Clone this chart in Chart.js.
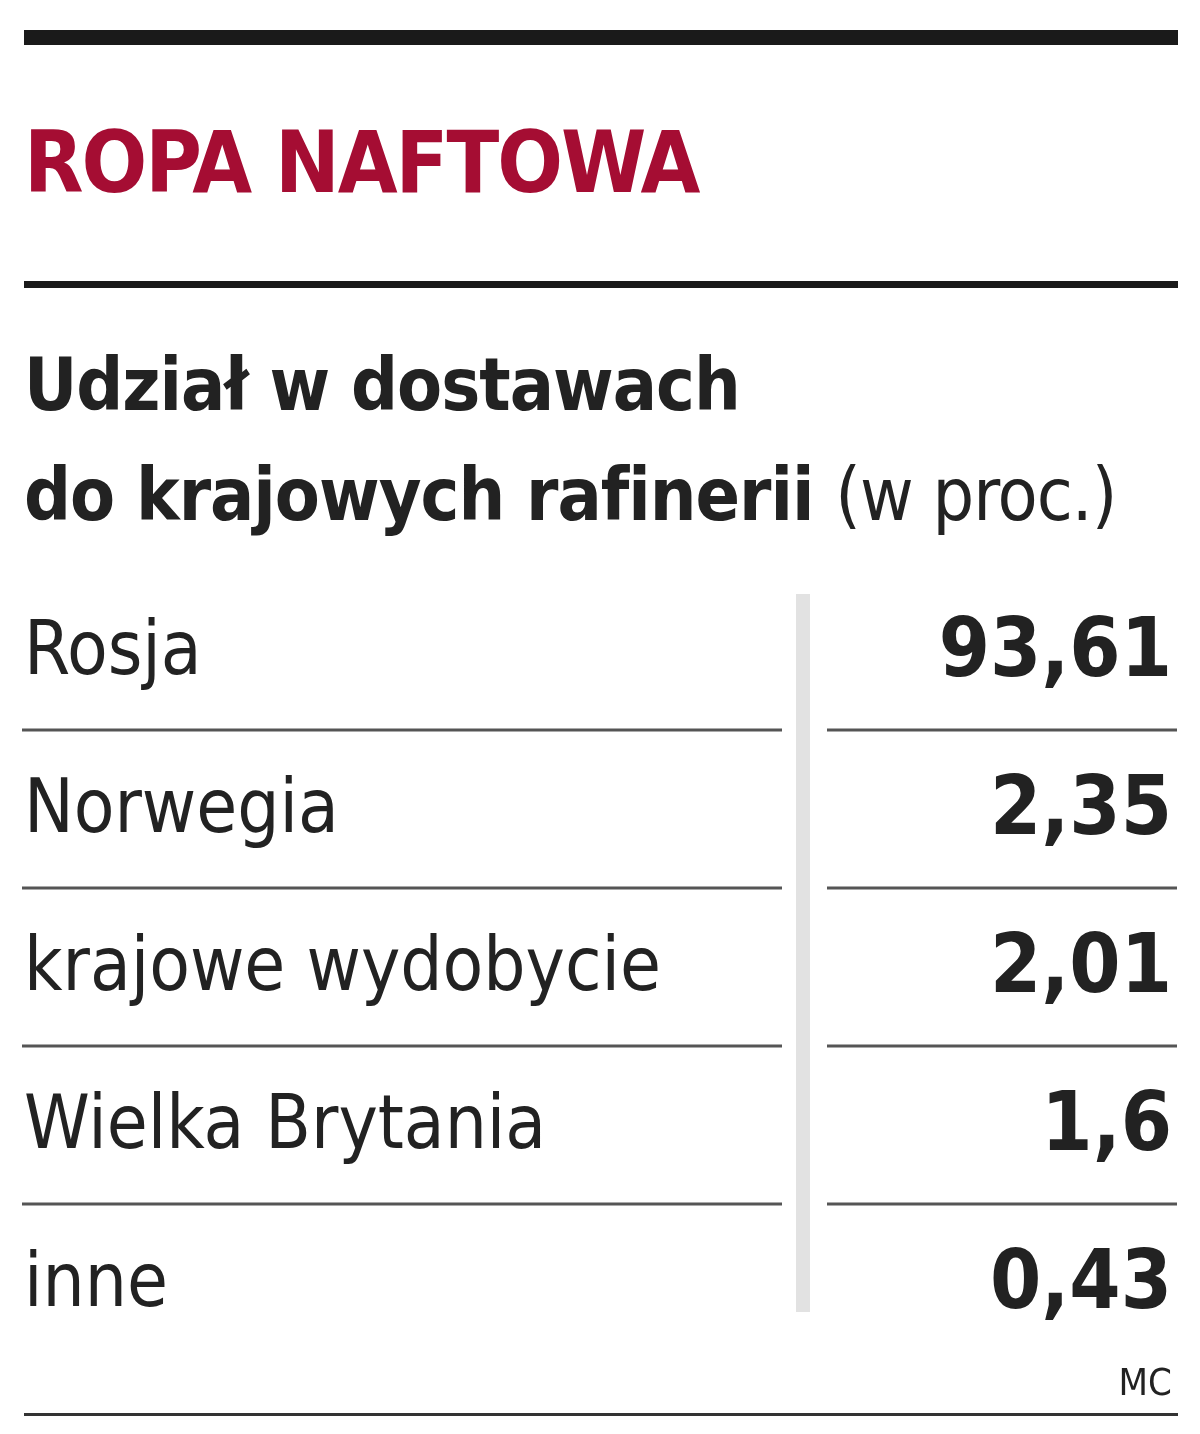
<!DOCTYPE html>
<html><head><meta charset="utf-8">
<script src="https://cdn.jsdelivr.net/npm/chart.js@4"></script>
<style>
body{margin:0;width:1200px;height:1434px;background:#fff;position:relative;overflow:hidden;font-family:'Liberation Sans Narrow','DejaVu Sans Condensed',sans-serif;color:#222}
.bar1{position:absolute;left:24px;top:30px;width:1154px;height:15px;background:#1a1a1a}
.bar2{position:absolute;left:24px;top:281px;width:1154px;height:7px;background:#1a1a1a}
.bar3{position:absolute;left:24px;top:1413px;width:1154px;height:3px;background:#333}
h1{position:absolute;left:24px;top:112px;margin:0;font-size:86px;font-weight:bold;color:#a50d33;letter-spacing:-2px}
.sub{position:absolute;left:24px;top:330px;margin:0;font-size:73px;font-weight:bold;line-height:110px;letter-spacing:-1px}
.sub span{font-weight:normal}
.mc{position:absolute;right:28px;top:1360px;font-size:38px}
#wrap{position:absolute;left:0;top:572px;width:1200px;height:790px}
</style></head><body>
<div class="bar1"></div>
<h1>ROPA NAFTOWA</h1>
<div class="bar2"></div>
<div class="sub">Udział w dostawach<br>do krajowych rafinerii <span>(w proc.)</span></div>
<div id="wrap"><canvas id="c"></canvas></div>
<div class="mc">MC</div>
<div class="bar3"></div>
<script>
const categories = ['Rosja', 'Norwegia', 'krajowe wydobycie', 'Wielka Brytania', 'inne'];
const values = [93.61, 2.35, 2.01, 1.6, 0.43];
const valueLabels = ['93,61', '2,35', '2,01', '1,6', '0,43'];

const tablePlugin = {
  id: 'table',
  afterDraw(chart) {
    const ctx = chart.ctx;
    const y = chart.scales.y;
    const fam = "'Liberation Sans Narrow','DejaVu Sans Condensed',sans-serif";
    ctx.save();
    // grey vertical divider
    ctx.fillStyle = '#e2e2e2';
    ctx.fillRect(796, 22, 14, 718);
    ctx.textBaseline = 'middle';
    categories.forEach((c, i) => {
      const py = y.getPixelForValue(i) + 4;
      ctx.fillStyle = '#222';
      ctx.font = '74px ' + fam;
      ctx.textAlign = 'left';
      ctx.fillText(c, 24, py);
      ctx.font = 'bold 82px ' + fam;
      ctx.textAlign = 'right';
      ctx.fillText(valueLabels[i], 1172, py);
      if (i < categories.length - 1) {
        const sy = (y.getPixelForValue(i) + y.getPixelForValue(i + 1)) / 2;
        ctx.fillStyle = '#555';
        ctx.fillRect(22, sy - 1.5, 760, 3);
        ctx.fillRect(827, sy - 1.5, 350, 3);
      }
    });
    ctx.restore();
  }
};

new Chart(document.getElementById('c'), {
  type: 'bar',
  data: { labels: categories, datasets: [{ data: values.map(() => 0), backgroundColor: 'rgba(0,0,0,0)' }] },
  options: {
    indexAxis: 'y',
    responsive: true, maintainAspectRatio: false, animation: false,
    layout: { padding: 0 },
    plugins: { legend: { display: false }, tooltip: { enabled: false } },
    scales: { x: { display: false }, y: { display: false, offset: true } }
  },
  plugins: [tablePlugin]
});
</script>
</body></html>
